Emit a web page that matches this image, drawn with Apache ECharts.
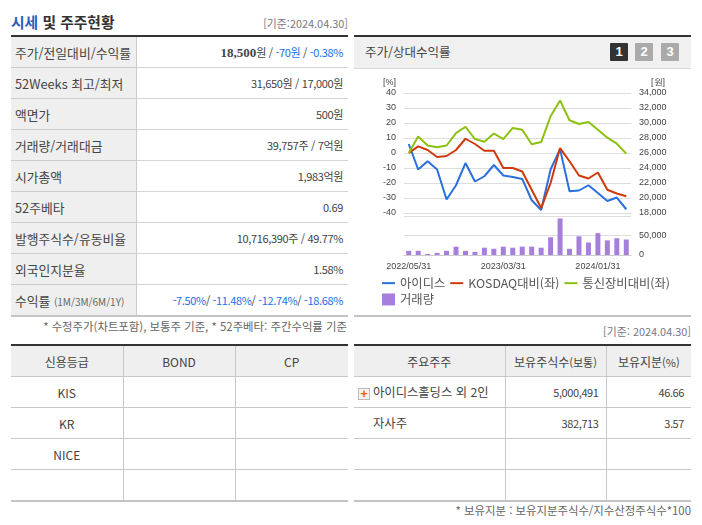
<!DOCTYPE html>
<html lang="ko">
<head>
<meta charset="UTF-8">
<title>시세 및 주주현황</title>
<script src="https://cdn.jsdelivr.net/npm/echarts@6/dist/echarts.min.js"></script>
<style>
html, body { margin: 0; padding: 0; background: #fff; }
body { width: 702px; height: 525px; position: relative; overflow: hidden; font-family: "Noto Sans CJK KR", "Liberation Sans", sans-serif; color: #444; }
.abs { position: absolute; white-space: nowrap; }
.note { font-size: 11.4px; color: #666; text-align: right; }
.date { font-size: 10.9px; color: #778; text-align: right; }
table { position: absolute; border-collapse: collapse; table-layout: fixed; border-top: 2px solid #333; border-bottom: 2px solid #c4c4c4; }
td, th { padding: 0; font-weight: normal; border-bottom: 1px solid #d4d4d4; overflow: hidden; white-space: nowrap; }
tr:last-child td { border-bottom: 0; }
#info td { height: 30px; }
#info td.k { background: #efefef; border-right: 1px solid #ccc; padding-left: 4px; font-size: 12.8px; color: #444; border-bottom-color: #ccc; }
#info td.v { text-align: right; padding-right: 5px; font-size: 11px; letter-spacing: -0.35px; color: #444; }
.blue { color: #1a6fe8; }
.k small { font-size: 10px; color: #666; }
.grid td, .grid th { height: 30px; text-align: center; font-size: 12px; border-right: 1px solid #c8c8c8; border-bottom: 1px solid #c8c8c8; color: #444; }
.grid th { background: #efefef; }
.grid td:last-child, .grid th:last-child { border-right: 0; }
.grid tr:last-child td { border-bottom: 0; }
#holders td.n { text-align: right; padding-right: 7px; font-size: 11px; letter-spacing: -0.4px; }
#holders td.h { text-align: left; padding-left: 19px; font-size: 12.3px; }
.btn { position: absolute; top: 43px; width: 18px; height: 18px; line-height: 18px; text-align: center; color: #fff; font: bold 13px/18px "Liberation Sans", sans-serif; background: #aaa; border-radius: 1px; }
#plus { position: absolute; left: 358px; top: 388px; width: 10px; height: 10px; border: 1px solid #bbb; background: #f4f4f4; color: #f06000; font: bold 13px/10px "Liberation Sans", sans-serif; text-align: center; }
#chart { position: absolute; left: 355px; top: 68px; width: 345px; height: 246px; }
</style>
</head>
<body>
<div class="abs" style="left:11px;top:11px;font-size:14.8px;font-weight:bold;color:#333;"><span style="color:#2b5fb8">시세</span> 및 주주현황</div>
<div class="abs date" style="right:354px;top:15px;">[기준:2024.04.30]</div>
<table id="info" style="left:11px;top:35px;width:337px;"></table>
<div class="abs note" style="right:355px;top:318px;">* 수정주가(차트포함), 보통주 기준, * 52주베타: 주간수익률 기준</div>

<div class="abs" style="left:354px;top:35px;width:337px;height:31px;background:#f0f0f0;border-top:2px solid #333;border-bottom:1px solid #d8d8d8;"></div>
<div class="abs" style="left:365px;top:42px;font-size:12.5px;color:#444;">주가/상대수익률</div>
<div class="btn" style="left:610px;background:#333;">1</div>
<div class="btn" style="left:635px;">2</div>
<div class="btn" style="left:661px;">3</div>
<div id="chart"></div>
<div class="abs" style="left:354px;top:315px;width:337px;height:2px;background:#c4c4c4;"></div>

<div class="abs date" style="right:11px;top:323px;">[기준: 2024.04.30]</div>
<table id="credit" class="grid" style="left:11px;top:344px;width:337px;"></table>
<table id="holders" class="grid" style="left:354px;top:344px;width:337px;"></table>
<div id="plus">+</div>
<div class="abs note" style="right:11px;top:502px;">* 보유지분 : 보유지분주식수/지수산정주식수*100</div>

<script>
// 표 내용
var infoRows = [
    ['주가/전일대비/수익률', '<b style="font-family:Liberation Serif;font-size:13px;letter-spacing:0">18,500</b>원 / <span class="blue">-70원</span> / <span class="blue">-0.38%</span>'],
    ['52Weeks 최고/최저', '31,650원 / 17,000원'],
    ['액면가', '500원'],
    ['거래량/거래대금', '39,757주 / 7억원'],
    ['시가총액', '1,983억원'],
    ['52주베타', '0.69'],
    ['발행주식수/유동비율', '10,716,390주 / 49.77%'],
    ['외국인지분율', '1.58%'],
    ['수익률 <small>(1M/3M/6M/1Y)</small>', '<span class="blue">-7.50%</span>/ <span class="blue">-11.48%</span>/ <span class="blue">-12.74%</span>/ <span class="blue">-18.68%</span>']
];
var creditHead = ['신용등급', 'BOND', 'CP'];
var creditRows = ['KIS', 'KR', 'NICE', ''];
var holderHead = ['주요주주', '보유주식수<span style="font-size:11px">(보통)</span>', '보유지분<span style="font-size:11px">(%)</span>'];
var holderRows = [
    ['아이디스홀딩스 외 2인', '5,000,491', '46.66'],
    ['자사주', '382,713', '3.57'],
    ['', '', ''],
    ['', '', '']
];

// 차트 데이터
var dates = ['2022/05/31','2022/06/30','2022/07/31','2022/08/31','2022/09/30','2022/10/31','2022/11/30','2022/12/31',
    '2023/01/31','2023/02/28','2023/03/31','2023/04/30','2023/05/31','2023/06/30','2023/07/31','2023/08/31',
    '2023/09/30','2023/10/31','2023/11/30','2023/12/31','2024/01/31','2024/02/29','2024/03/31','2024/04/30'];
var idis = [6, -11, -5.5, -11, -31, -21.5, -6.7, -19, -15.5, -8, -15, -16, -17.3, -31.5, -38, -11, 2.6, -25.5, -25, -21.5, -26.7, -32, -29.7, -37.5];
var kosdaq = [0, 4.4, 2, -2.7, -2, 2, 9.5, 6, 1.5, 1.5, -10, -10, -12.3, -24.5, -36.7, -20, 3.3, -5.5, -15, -17, -13, -24.5, -27, -28.8];
var telecom = [0, 11, 5, 3.8, 5, 13.3, 17.5, 9.3, 7.5, 13, 9.3, 16.7, 15.5, 5.8, 7.3, 24.5, 35, 21.8, 19.3, 20.7, 15.5, 10.2, 6.2, -0.4];
var volume = [10700, 10700, 2700, 5400, 10700, 21400, 10700, 8000, 18700, 16000, 21400, 18700, 21400, 21400, 18700, 45500, 93700, 16000, 48000, 32000, 56000, 37500, 43000, 39757];

function fill(id, html) { document.getElementById(id).innerHTML = html; }
fill('info', '<colgroup><col style="width:125px"><col></colgroup>' + infoRows.map(function (r) {
    return '<tr><td class="k">' + r[0] + '</td><td class="v">' + r[1] + '</td></tr>';
}).join(''));
fill('credit', '<colgroup><col style="width:112px"><col style="width:112px"><col></colgroup><tr>' + creditHead.map(function (h) {
    return '<th>' + h + '</th>';
}).join('') + '</tr>' + creditRows.map(function (r) {
    return '<tr><td>' + r + '</td><td></td><td></td></tr>';
}).join(''));
fill('holders', '<colgroup><col style="width:151px"><col style="width:101px"><col></colgroup><tr>' + holderHead.map(function (h) {
    return '<th>' + h + '</th>';
}).join('') + '</tr>' + holderRows.map(function (r) {
    return '<tr><td class="h">' + r[0] + '</td><td class="n">' + r[1] + '</td><td class="n">' + r[2] + '</td></tr>';
}).join(''));

var labelFont = { fontFamily: 'Liberation Sans', fontSize: 9, color: '#444' };
var myChart = echarts.init(document.getElementById('chart'), null, { renderer: 'canvas' });
var labelIdx = [0, 10, 20];
var tickIdx = [0, 1, 11, 21];
// 범례에서 선만 보이도록 심볼을 숨김
var lineIcon = { opacity: 0 };

myChart.setOption({
    animation: false,
    textStyle: { fontFamily: 'Noto Sans CJK KR' },
    grid: [
        { left: 49, right: 69, top: 25, height: 120 },
        { left: 49, right: 69, top: 148, height: 39 }
    ],
    legend: {
        left: 21, top: 204, width: 316,
        itemWidth: 13, itemHeight: 12, itemGap: 4,
        textStyle: { fontSize: 12.3, color: '#555', padding: [0, 5, 0, 0] },
        data: [
            { name: '아이디스', itemStyle: lineIcon },
            { name: 'KOSDAQ대비(좌)', itemStyle: lineIcon },
            { name: '통신장비대비(좌)', itemStyle: lineIcon },
            { name: '거래량', icon: 'rect' }
        ]
    },
    xAxis: [
        { type: 'category', gridIndex: 0, data: dates, axisLine: { show: false }, axisTick: { show: false }, axisLabel: { show: false } },
        {
            type: 'category', gridIndex: 1, data: dates,
            axisLine: { lineStyle: { color: '#ccc' } },
            axisTick: { length: 4, lineStyle: { color: '#bbb' }, interval: function (i) { return tickIdx.indexOf(i) >= 0; } },
            axisLabel: Object.assign({}, labelFont, { margin: 7, interval: function (i) { return labelIdx.indexOf(i) >= 0; } })
        }
    ],
    yAxis: [
        {
            type: 'value', gridIndex: 0, min: -40, max: 40, interval: 10,
            name: '[%]', nameGap: 6, nameTextStyle: Object.assign({}, labelFont, { align: 'right', padding: [0, 8, 0, 0] }),
            axisLine: { show: false }, axisTick: { show: false },
            axisLabel: Object.assign({}, labelFont, { margin: 8 }),
            splitLine: { lineStyle: { color: '#ddd' } }
        },
        {
            type: 'value', gridIndex: 0, position: 'right', min: 18000, max: 34000, interval: 2000,
            name: '[원]', nameGap: 6, nameTextStyle: Object.assign({}, labelFont, { align: 'left', padding: [0, 0, 0, 20] }),
            axisLine: { show: false }, axisTick: { show: false },
            axisLabel: Object.assign({}, labelFont, { margin: 8, formatter: function (v) { return v.toLocaleString('en-US'); } }),
            splitLine: { show: false }
        },
        {
            type: 'value', gridIndex: 1, position: 'right', min: 0, max: 100000, interval: 50000,
            axisLine: { show: false }, axisTick: { show: false },
            axisLabel: Object.assign({}, labelFont, { margin: 8, formatter: function (v) { return v === 100000 ? '' : v.toLocaleString('en-US'); } }),
            splitLine: { lineStyle: { color: '#ddd' } }
        }
    ],
    series: [
        { name: '아이디스', type: 'line', data: idis, symbol: 'none', lineStyle: { width: 2, color: '#2a6fdb' }, itemStyle: { color: '#2a6fdb' } },
        { name: 'KOSDAQ대비(좌)', type: 'line', data: kosdaq, symbol: 'none', lineStyle: { width: 2, color: '#cf3a0c' }, itemStyle: { color: '#cf3a0c' } },
        { name: '통신장비대비(좌)', type: 'line', data: telecom, symbol: 'none', lineStyle: { width: 2, color: '#8cc20f' }, itemStyle: { color: '#8cc20f' } },
        { name: '거래량', type: 'bar', xAxisIndex: 1, yAxisIndex: 2, data: volume, barWidth: 5, itemStyle: { color: '#a67fdc' } }
    ]
});
</script>
</body>
</html>
